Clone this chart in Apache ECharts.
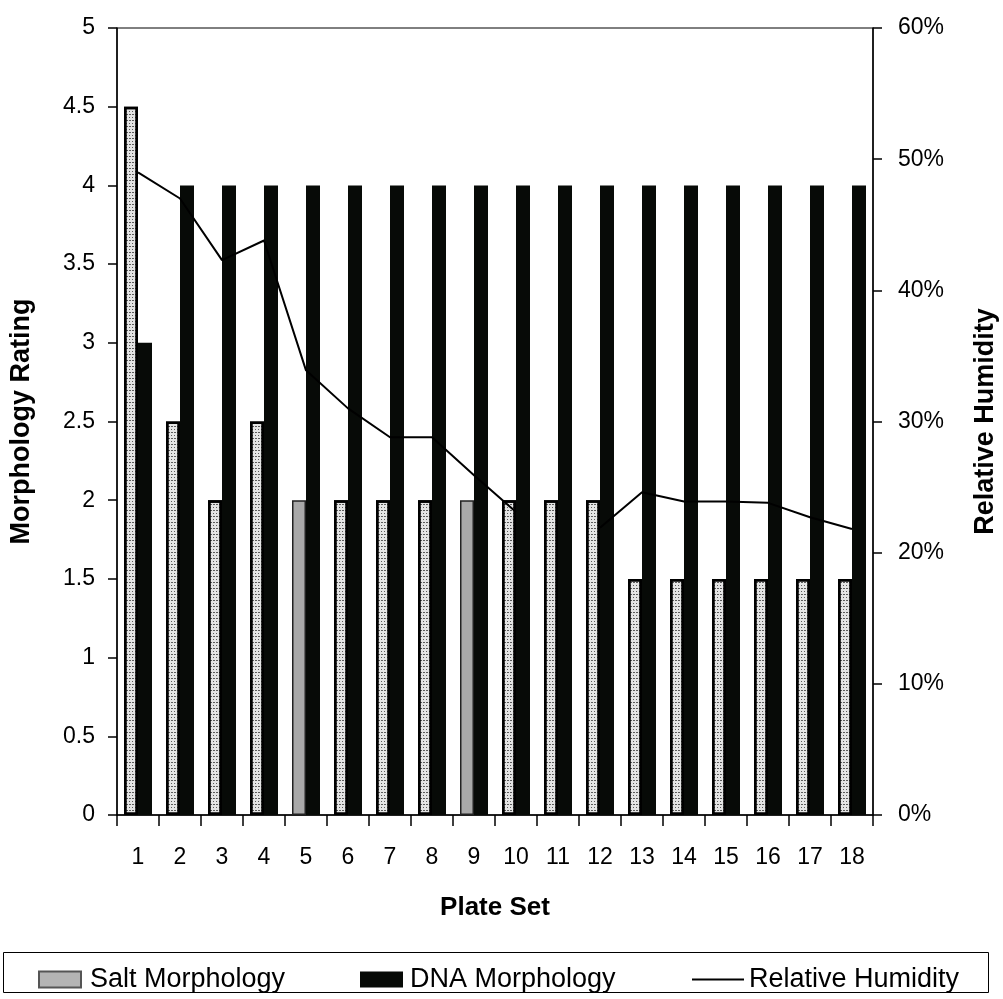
<!DOCTYPE html>
<html>
<head>
<meta charset="utf-8">
<script src="https://cdn.jsdelivr.net/npm/echarts@6/dist/echarts.min.js"></script>
<style>
  html, body { margin: 0; padding: 0; background: #fff; }
  #chart { width: 1003px; height: 999px; }
</style>
</head>
<body>
<div id="chart"></div>
<script>
// Plate sets along the x axis
const plateSets = ['1','2','3','4','5','6','7','8','9','10','11','12','13','14','15','16','17','18'];
// Morphology ratings (left axis)
const saltMorphology = [4.5, 2.5, 2, 2.5, 2, 2, 2, 2, 2, 2, 2, 2, 1.5, 1.5, 1.5, 1.5, 1.5, 1.5];
const dnaMorphology  = [3, 4, 4, 4, 4, 4, 4, 4, 4, 4, 4, 4, 4, 4, 4, 4, 4, 4];
// Relative humidity in percent (right axis); no reading for set 11
const relativeHumidity = [49, 47, 42.3, 43.8, 33.9, 31, 28.8, 28.8, 25.9, 23.1, null, 21.9, 24.6, 23.9, 23.9, 23.8, 22.7, 21.8];
// Plate sets whose salt bar is printed in solid grey
const greySaltSets = ['5', '9'];

const FONT = "'Liberation Sans', Arial, sans-serif";

// speckled fill for the salt bars
const stipple = {
  symbol: 'rect',
  symbolSize: 1,
  color: 'rgba(0,0,0,0.6)',
  dashArrayX: [[1, 2], [2, 1]],
  dashArrayY: [1, 2],
  rotation: 0
};

const saltData = saltMorphology.map((v, i) => {
  const grey = greySaltSets.includes(plateSets[i]);
  return {
    value: v,
    itemStyle: grey
      ? { color: '#a9a9a9', borderColor: '#222', borderWidth: 1.5 }
      : { color: '#e4e4e4', borderColor: '#000', borderWidth: 2.5, decal: stipple }
  };
});

const chart = echarts.init(document.getElementById('chart'), null, { renderer: 'canvas' });

const legendText = { fontFamily: FONT, fontSize: 27, color: '#000' };

chart.setOption({
  backgroundColor: '#fff',
  animation: false,
  textStyle: { fontFamily: FONT, color: '#000' },
  grid: {
    left: 117, right: 130, top: 28, bottom: 184,
    outerBoundsMode: 'none',
    containLabel: false,
    show: true, borderColor: '#000', borderWidth: 1, backgroundColor: 'transparent'
  },
  legend: [
    {
      data: [{ name: 'Salt Morphology', icon: 'rect', itemStyle: { color: '#b4b4b4', borderColor: '#555', borderWidth: 2 } }],
      left: 33, top: 961, itemWidth: 42, itemHeight: 16, itemGap: 0,
      textStyle: Object.assign({ padding: [0, 0, 0, 4] }, legendText)
    },
    {
      data: [{ name: 'DNA Morphology', icon: 'rect' }],
      left: 355, top: 961, itemWidth: 43, itemHeight: 16, itemGap: 0,
      textStyle: Object.assign({ padding: [0, 0, 0, 2] }, legendText)
    },
    {
      data: [{ name: 'Relative Humidity', icon: 'rect', itemStyle: { color: '#000' } }],
      left: 687, top: 961, itemWidth: 52, itemHeight: 2, itemGap: 0,
      textStyle: legendText
    }
  ],
  graphic: [
    {
      type: 'rect',
      shape: { x: 3.5, y: 952.5, width: 985, height: 40 },
      style: { fill: 'none', stroke: '#000', lineWidth: 1 },
      silent: true
    }
  ],
  xAxis: {
    type: 'category',
    data: plateSets,
    name: 'Plate Set',
    nameLocation: 'middle',
    nameGap: 80,
    nameTextStyle: { fontFamily: FONT, fontSize: 26, fontWeight: 'bold', color: '#000' },
    axisLine: { lineStyle: { color: '#000', width: 1.5 } },
    axisTick: { show: true, length: 11, lineStyle: { color: '#000', width: 1.5 } },
    axisLabel: { fontFamily: FONT, fontSize: 23, color: '#000', margin: 31 },
    splitLine: { show: false }
  },
  yAxis: [
    {
      type: 'value',
      min: 0, max: 5, interval: 0.5,
      name: 'Morphology Rating',
      nameLocation: 'middle',
      nameRotate: 90,
      nameGap: 82,
      nameTextStyle: { fontFamily: FONT, fontSize: 27, fontWeight: 'bold', color: '#000' },
      axisLine: { show: true, lineStyle: { color: '#000', width: 1.5 } },
      axisTick: { show: true, length: 9, lineStyle: { color: '#000', width: 1.5 } },
      axisLabel: { fontFamily: FONT, fontSize: 23, color: '#000', margin: 22 },
      splitLine: { show: false }
    },
    {
      type: 'value',
      min: 0, max: 60, interval: 10,
      position: 'right',
      name: 'Relative Humidity',
      nameLocation: 'middle',
      nameRotate: 90,
      nameGap: 99,
      nameTextStyle: { fontFamily: FONT, fontSize: 27, fontWeight: 'bold', color: '#000' },
      axisLine: { show: true, lineStyle: { color: '#000', width: 1.5 } },
      axisTick: { show: true, length: 9, lineStyle: { color: '#000', width: 1.5 } },
      axisLabel: { fontFamily: FONT, fontSize: 23, color: '#000', margin: 25, formatter: '{value}%' },
      splitLine: { show: false }
    }
  ],
  series: [
    {
      name: 'Salt Morphology',
      type: 'bar',
      yAxisIndex: 0,
      barWidth: 14,
      barGap: '0%',
      data: saltData,
      itemStyle: { color: '#e4e4e4', borderColor: '#000', borderWidth: 2 }
    },
    {
      name: 'DNA Morphology',
      type: 'bar',
      yAxisIndex: 0,
      barWidth: 14,
      barGap: '0%',
      data: dnaMorphology,
      itemStyle: { color: '#070a07' }
    },
    {
      name: 'Relative Humidity',
      type: 'line',
      yAxisIndex: 1,
      data: relativeHumidity,
      connectNulls: false,
      symbol: 'none',
      z: 5,
      lineStyle: { color: '#000', width: 2 },
      itemStyle: { color: '#000' }
    }
  ]
});
</script>
</body>
</html>
